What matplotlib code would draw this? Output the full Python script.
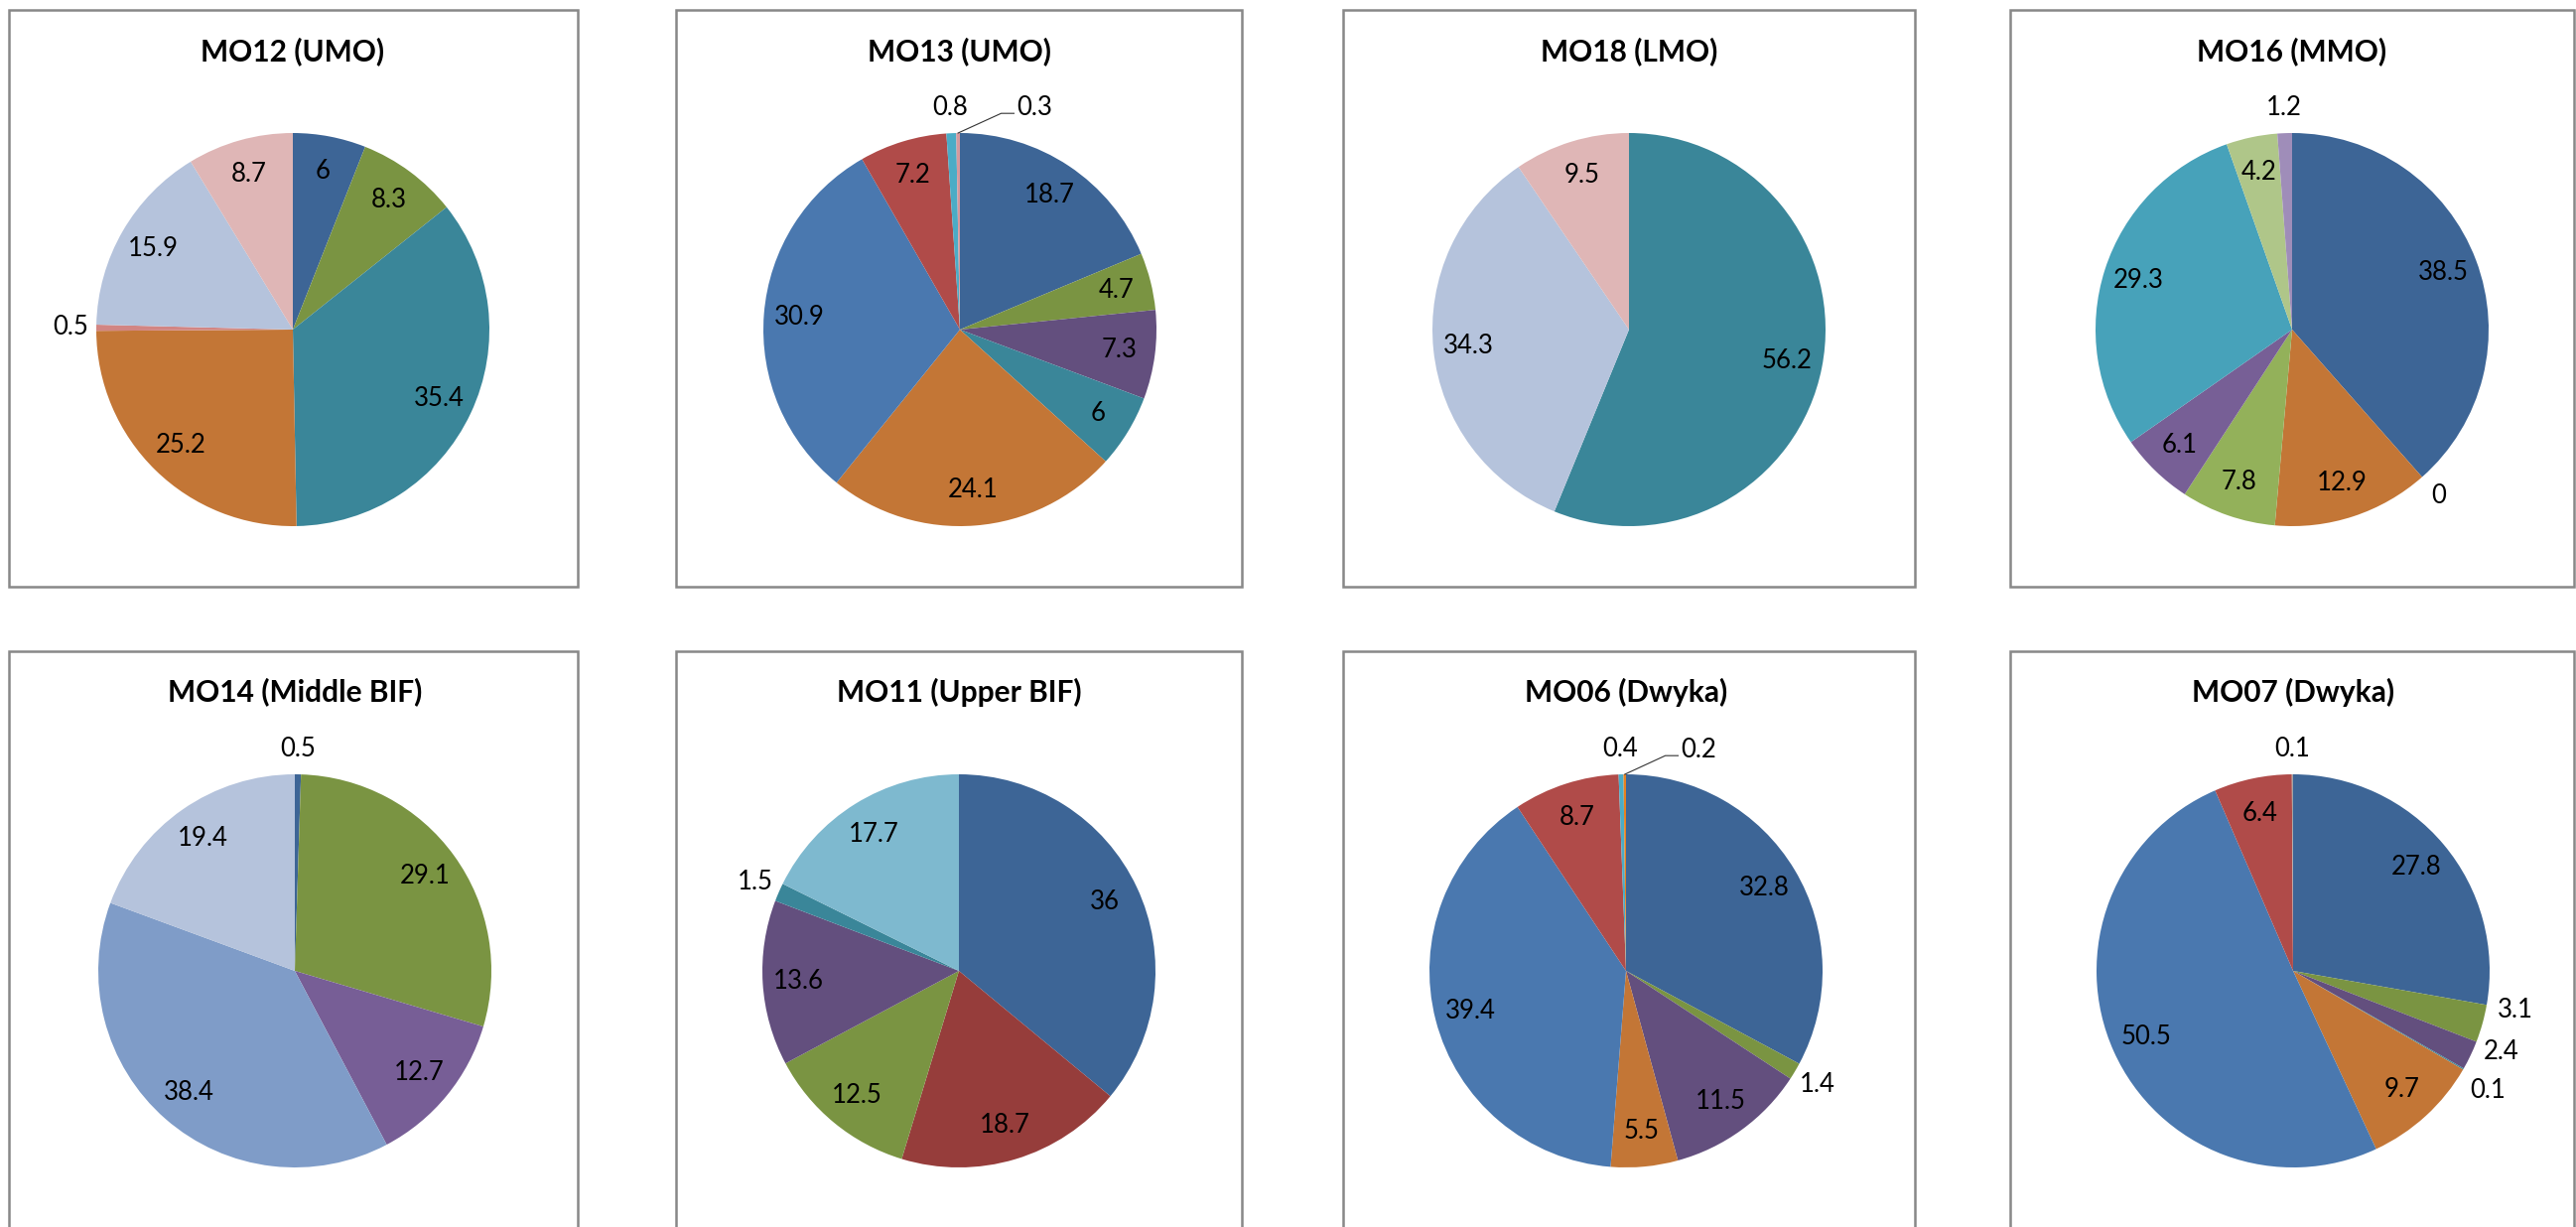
import matplotlib.pyplot as plt
from matplotlib.patches import Rectangle
import numpy as np

# sample titles and slice values, clockwise from 12 o'clock
titles = ["MO12 (UMO)", "MO13 (UMO)", "MO18 (LMO)", "MO16 (MMO)",
          "MO14 (Middle BIF)", "MO11 (Upper BIF)", "MO06 (Dwyka)", "MO07 (Dwyka)"]

mo12 = [6, 8.3, 35.4, 25.2, 0.5, 15.9, 8.7]
mo13 = [18.7, 4.7, 7.3, 6, 24.1, 30.9, 7.2, 0.8, 0.3]
mo18 = [56.2, 34.3, 9.5]
mo16 = [38.5, 0, 12.9, 7.8, 6.1, 29.3, 4.2, 1.2]
mo14 = [0.5, 29.1, 12.7, 38.4, 19.4]
mo11 = [36, 18.7, 12.5, 13.6, 1.5, 17.7]
mo06 = [32.8, 1.4, 11.5, 5.5, 39.4, 8.7, 0.4, 0.2]
mo07 = [27.8, 3.1, 2.4, 0.1, 9.7, 50.5, 6.4, 0.1]

c_mo12 = ["#3d6596", "#7a9442", "#3a8699", "#c37636", "#d28583", "#b5c3dc", "#dfb6b6"]
c_mo13 = ["#3d6596", "#7a9442", "#634f7e", "#3a8699", "#c37636", "#4a78af", "#b04b49", "#4bacc6", "#d59a9e"]
c_mo18 = ["#3a8699", "#b5c3dc", "#dfb6b6"]
c_mo16 = ["#3d6596", "#c37636", "#c37636", "#93b15a", "#775f96", "#47a2ba", "#afc689", "#9f8db9"]
c_mo14 = ["#3d6596", "#7a9442", "#775e96", "#7f9cc8", "#b5c3dc"]
c_mo11 = ["#3d6596", "#963d3b", "#7a9442", "#634f7e", "#3a8699", "#7eb9cf"]
c_mo06 = ["#3d6596", "#7a9442", "#634f7e", "#c37636", "#4a78af", "#b04b49", "#4bacc6", "#e8821e"]
c_mo07 = ["#3d6596", "#7a9442", "#634f7e", "#3a8699", "#c37636", "#4a78af", "#b04b49", "#a5a5a5"]

values = [mo12, mo13, mo18, mo16, mo14, mo11, mo06, mo07]
colors = [c_mo12, c_mo13, c_mo18, c_mo16, c_mo14, c_mo11, c_mo06, c_mo07]

# labels pulled aside with a leader line: panel -> {slice: (x, y) of label}
leaders = {1: {8: (0.29, 1.13)}, 6: {7: (0.28, 1.125)}}
# crowded outside labels spread apart by hand
spread = {7: {1: (1.13, -0.20), 2: (1.06, -0.41), 3: (0.99, -0.61)}}

W, H = 2595, 1236
R = 198
fig = plt.figure(figsize=(W / 100, H / 100), dpi=100)
plt.rcParams['font.family'] = ['Lato', 'DejaVu Sans']

box_x = [(9, 582), (681, 1251), (1353, 1929), (2025, 2593)]
box_y = [(10, 591), (656, 1300)]
pie_cx = [[295, 967, 1641, 2309], [297, 966, 1638, 2310]]
pie_cy = [332, 978]
title_y = [52, 697]

for i in range(8):
    row, col = divmod(i, 4)
    x0, x1 = box_x[col]
    y0, y1 = box_y[row]
    fig.patches.append(Rectangle((x0 / W, 1 - y1 / H), (x1 - x0) / W, (y1 - y0) / H,
                                 transform=fig.transFigure, fill=False,
                                 edgecolor="#888888", linewidth=1.8))
    cx, cy = pie_cx[row][col], pie_cy[row]
    fig.text(cx / W, 1 - title_y[row] / H, titles[i], ha="center", va="center",
             fontsize=21.5, fontweight="bold")

    ax = fig.add_axes([(cx - R) / W, 1 - (cy + R) / H, 2 * R / W, 2 * R / H])
    wedges, _ = ax.pie(values[i], colors=colors[i], startangle=90, counterclock=False,
                       radius=1, wedgeprops=dict(linewidth=0))
    ax.set_xlim(-1, 1)
    ax.set_ylim(-1, 1)
    ax.axis("off")

    for j, (w, v) in enumerate(zip(wedges, values[i])):
        ang = np.deg2rad((w.theta1 + w.theta2) / 2)
        txt = f"{v:g}"
        if j in leaders.get(i, {}):
            lx, ly = leaders[i][j]
            ax.plot([np.cos(ang), lx - 0.08, lx - 0.015], [np.sin(ang), ly - 0.03, ly - 0.03],
                    color="#333333", lw=0.8, clip_on=False)
            ax.text(lx, ly, txt, ha="left", va="center", fontsize=18.5)
            continue
        if j in spread.get(i, {}):
            tx, ty = spread[i][j]
        else:
            r = 1.13 if v < 4 else 0.82
            tx, ty = r * np.cos(ang), r * np.sin(ang)
        ax.text(tx, ty, txt, ha="center", va="center", fontsize=18.5)

fig.savefig("out.png", dpi=100)
